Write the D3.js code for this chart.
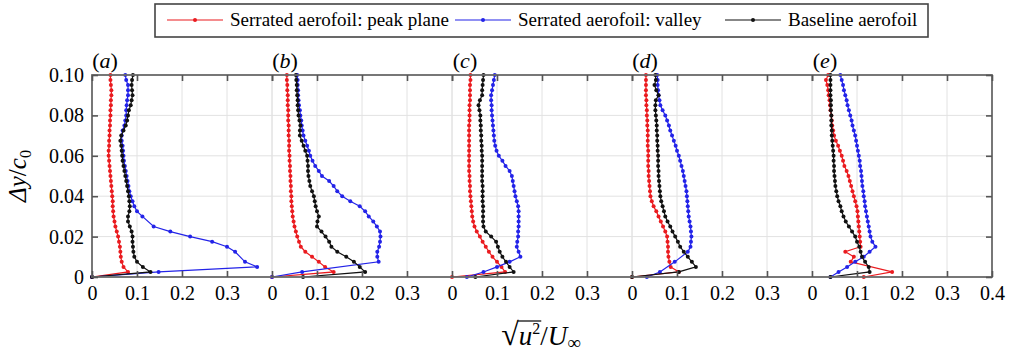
<!DOCTYPE html>
<html>
<head>
<meta charset="utf-8">
<script src="https://cdn.jsdelivr.net/npm/d3@7"></script>
<style>
  body { margin: 0; background: #fff; }
</style>
</head>
<body>
<div class="svg-wrapper"></div>
<script>
// wall-normal stations shared by every profile, from the top of the box down to the wall
var yLevels = [0.1, 0.0975, 0.095, 0.0925, 0.09, 0.0875, 0.085, 0.0825, 0.08, 0.0775,
               0.075, 0.0725, 0.07, 0.0675, 0.065, 0.0625, 0.06, 0.0575, 0.055, 0.0525,
               0.05, 0.0475, 0.045, 0.0425, 0.04, 0.0375, 0.035, 0.0325, 0.03, 0.0275,
               0.025, 0.0225, 0.02, 0.0175, 0.015, 0.0125, 0.01, 0.0075, 0.005, 0.0025, 0];

var panelLabels = ["a", "b", "c", "d", "e"];
var xTicks = [0, 0.1, 0.2, 0.3];
var xTicksLast = [0, 0.1, 0.2, 0.3, 0.4];
var yTicks = [0, 0.02, 0.04, 0.06, 0.08, 0.1];
var seriesNames = ["Serrated aerofoil: peak plane", "Serrated aerofoil: valley", "Baseline aerofoil"];
var seriesColors = ["#ea1b1f", "#2323e8", "#111111"];

// rms velocity profiles (null = no sample at that station)
var peakA = [0.041,0.041,0.042,0.043,0.043,0.042,0.042,0.041,0.041,0.040,
             0.040,0.039,0.039,0.038,0.038,0.037,0.037,0.038,0.039,0.040,
             0.041,0.042,0.043,0.044,0.045,0.046,0.046,0.047,0.048,0.050,
             0.052,0.055,0.058,0.060,0.062,0.063,0.064,0.066,0.070,0.080,0];
var valleyA = [0.074,0.076,0.080,0.080,0.080,0.078,0.077,0.076,0.076,0.074,
               0.072,0.068,0.066,0.066,0.068,0.069,0.070,0.071,0.073,0.075,
               0.077,0.079,0.081,0.083,0.086,0.090,0.094,0.100,0.112,null,
               0.137,0.174,0.218,0.267,0.300,0.318,null,0.340,0.367,0.148,0];
var baseA = [0.091,0.089,0.088,0.089,0.090,0.088,0.086,0.082,0.080,0.078,
             0.075,0.070,0.065,0.063,0.065,0.066,0.067,0.068,0.070,0.072,
             0.074,0.076,0.078,0.080,0.082,0.083,0.084,0.083,0.080,0.080,
             0.084,0.088,0.090,0.090,0.091,0.092,0.094,0.100,0.113,0.130,0];

var peakB = [0.033,0.033,0.034,0.034,0.035,0.035,0.035,0.036,0.036,0.036,
             0.037,0.037,0.037,0.038,0.038,0.038,0.039,0.039,0.040,0.040,
             0.041,0.041,0.042,0.042,0.043,0.043,0.044,0.045,0.046,0.048,
             0.050,0.053,0.056,0.060,0.064,0.074,0.089,0.104,0.118,0.137,0];
var valleyB = [0.056,0.057,0.057,0.058,0.058,0.059,0.060,0.062,0.063,0.065,
               0.066,0.068,0.070,0.074,0.078,0.082,0.085,0.090,0.096,0.104,
               0.111,0.127,0.137,0.145,0.156,0.174,0.195,0.207,0.215,0.225,
               0.233,0.240,0.241,0.240,0.238,0.234,0.234,0.237,null,0.067,0];
var baseB = [0.053,0.054,0.055,0.055,0.056,0.057,0.057,0.058,0.059,0.061,
             0.063,0.062,0.062,0.066,0.070,0.074,0.078,0.079,0.080,0.080,
             0.081,0.083,0.085,0.089,0.093,0.095,0.097,0.100,0.104,0.101,
             0.100,0.110,0.119,0.127,0.132,0.145,0.165,0.182,0.195,0.207,0.069];

var peakC = [0.041,0.041,0.040,0.040,0.040,0.040,0.039,0.039,0.039,0.039,
             0.038,0.038,0.038,0.038,0.038,0.038,0.038,0.038,0.038,0.038,
             0.039,0.039,0.040,0.040,0.041,0.042,0.043,0.044,0.045,0.047,
             0.050,0.055,0.062,0.068,0.075,0.082,0.090,0.100,0.110,0.118,0];
var valleyC = [0.095,0.093,0.091,0.089,0.087,0.087,0.088,0.088,0.089,0.090,
               0.091,0.092,0.093,0.094,0.096,0.099,0.104,0.112,0.119,0.128,
               0.133,0.135,0.137,0.139,0.141,0.144,0.147,0.148,0.148,0.148,
               0.148,0.147,0.147,0.145,0.144,0.148,0.152,0.128,0.100,0.070,0.033];
var baseC = [0.070,0.069,0.068,0.067,0.067,0.062,0.059,0.061,0.063,0.063,
             0.064,0.064,0.065,0.065,0.066,0.066,0.067,0.067,0.067,0.067,
             0.067,0.067,0.068,0.068,0.068,0.068,0.069,0.069,0.069,0.069,
             0.070,0.075,0.087,0.098,0.102,0.106,0.112,0.120,0.128,0.137,0.052];

var peakD = [0.031,0.031,0.031,0.031,0.031,0.032,0.032,0.033,0.033,0.034,
             0.034,0.035,0.035,0.035,0.035,0.036,0.036,0.036,0.036,0.037,
             0.037,0.038,0.039,0.040,0.041,0.044,0.048,0.054,0.059,0.064,
             0.069,0.074,0.078,0.079,0.080,0.080,0.081,0.083,0.086,0.104,0];
var valleyD = [0.056,0.057,0.057,0.058,0.059,0.061,0.063,0.068,0.074,0.078,
               0.082,0.085,0.089,0.093,0.097,0.100,0.104,0.107,0.110,0.113,
               0.115,0.117,0.119,0.121,0.122,0.123,0.124,0.125,0.126,0.128,
               0.130,0.131,0.132,0.131,0.130,0.124,null,0.095,null,0.062,0.033];
var baseD = [0.052,0.053,0.050,0.054,0.059,0.053,0.052,0.052,0.053,0.054,
             0.055,0.055,0.056,0.056,0.057,0.057,0.058,0.058,0.058,0.059,
             0.059,0.060,0.061,0.062,0.063,0.065,0.068,0.071,0.074,0.079,
             0.085,0.090,0.096,0.102,0.107,0.115,0.124,0.133,0.142,0.104,0];

var peakE = [0.036,0.031,0.034,0.036,0.037,0.039,0.040,0.041,0.043,0.044,
             0.045,0.047,0.049,0.053,0.058,0.062,0.066,0.069,0.072,0.077,
             0.081,0.084,0.087,0.090,0.093,0.096,0.099,0.101,0.102,0.103,
             0.104,0.105,0.106,0.107,0.108,0.074,0.093,0.086,null,0.178,0.115];
var valleyE = [0.063,0.066,0.069,0.071,0.074,0.077,0.079,0.082,0.085,0.088,
               0.090,0.093,0.096,0.098,0.100,0.102,0.104,0.106,0.107,0.109,
               0.110,0.111,0.112,0.114,0.115,0.117,0.118,0.120,0.122,0.124,
               0.126,0.128,0.130,0.134,0.141,0.128,0.115,0.096,0.078,0.059,0.041];
var baseE = [0.041,0.041,0.041,0.041,0.041,0.042,0.042,0.042,0.043,0.043,
             0.043,0.044,0.044,0.045,0.046,0.047,0.048,0.048,0.049,0.049,
             0.050,0.051,0.052,0.054,0.056,0.059,0.063,0.066,0.070,0.075,
             0.082,0.089,0.096,0.100,0.105,0.108,0.111,0.118,0.126,0.128,0.041];

var peak   = [peakA, peakB, peakC, peakD, peakE];
var valley = [valleyA, valleyB, valleyC, valleyD, valleyE];
var base   = [baseA, baseB, baseC, baseD, baseE];
var allSeries = [peak, valley, base];

var serif = "Liberation Serif";
var width = 1011, height = 356;
var margin = {top: 75, left: 92};
var plotW = 900, plotH = 202;
var panelW = plotW / panelLabels.length;

var svg = d3.select(".svg-wrapper").append("svg")
    .attr("width", width)
    .attr("height", height)
    .attr("font-family", serif)
    .style("display", "block");

var yScale = d3.scaleLinear().domain([0, 0.1]).range([margin.top + plotH, margin.top]);
var xScales = panelLabels.map(function(d, i) {
  return d3.scaleLinear().domain([0, 0.4])
    .range([margin.left + i * panelW, margin.left + (i + 1) * panelW]);
});

var fmtX = function(d) { return d === 0 ? "0" : d3.format(".1f")(d); };
var fmtY = function(d) { return d === 0 ? "0" : d3.format(".2f")(d); };

// grid
var grid = svg.append("g").attr("stroke", "#e2e2e2").attr("stroke-width", 1);
grid.selectAll(".hgrid").data(yTicks).enter().append("line")
  .attr("x1", margin.left).attr("x2", margin.left + plotW)
  .attr("y1", function(d) { return yScale(d); })
  .attr("y2", function(d) { return yScale(d); });
xScales.forEach(function(xs) {
  grid.selectAll(null).data(xTicksLast).enter().append("line")
    .attr("x1", function(d) { return xs(d); })
    .attr("x2", function(d) { return xs(d); })
    .attr("y1", margin.top).attr("y2", margin.top + plotH);
});

// profiles
var line = d3.line();
xScales.forEach(function(xs, i) {
  var g = svg.append("g").attr("class", "panel-" + panelLabels[i]);
  allSeries.forEach(function(series, s) {
    var pts = yLevels.map(function(y, j) { return {x: series[i][j], y: y}; })
      .filter(function(d) { return d.x != null; });
    line.x(function(d) { return xs(d.x); }).y(function(d) { return yScale(d.y); });
    g.append("path")
      .attr("d", line(pts))
      .attr("fill", "none")
      .attr("stroke", seriesColors[s])
      .attr("stroke-width", 1.2);
    g.selectAll(null).data(pts).enter().append("circle")
      .attr("cx", function(d) { return xs(d.x); })
      .attr("cy", function(d) { return yScale(d.y); })
      .attr("r", 2)
      .attr("fill", seriesColors[s]);
  });
});

// frame
svg.append("rect")
  .attr("x", margin.left).attr("y", margin.top)
  .attr("width", plotW).attr("height", plotH)
  .attr("fill", "none").attr("stroke", "#6a6a6a").attr("stroke-width", 1.8);

function styleAxis(g) {
  g.attr("font-family", serif).attr("font-size", 20);
  g.select(".domain").remove();
  g.selectAll(".tick line").attr("stroke", "#555").attr("stroke-width", 1.6);
  g.selectAll(".tick text").attr("fill", "#000");
}

xScales.forEach(function(xs, i) {
  var vals = i == xScales.length - 1 ? xTicksLast : xTicks;
  svg.append("g")
    .attr("transform", "translate(0," + (margin.top + plotH) + ")")
    .call(d3.axisBottom(xs).tickValues(vals).tickFormat(fmtX)
      .tickSizeInner(-6).tickSizeOuter(0).tickPadding(9))
    .call(styleAxis);
  svg.append("g")
    .attr("transform", "translate(0," + margin.top + ")")
    .call(d3.axisTop(xs).tickValues(xTicksLast).tickFormat("")
      .tickSizeInner(-6).tickSizeOuter(0))
    .call(styleAxis);
  svg.append("text")
    .attr("x", xs(0) + 13).attr("y", 68)
    .attr("text-anchor", "middle")
    .attr("font-size", 22)
    .html("(<tspan font-style='italic'>" + panelLabels[i] + "</tspan>)");
});

svg.append("g")
  .attr("transform", "translate(" + margin.left + ",0)")
  .call(d3.axisLeft(yScale).tickValues(yTicks).tickFormat(fmtY)
    .tickSizeInner(-6).tickSizeOuter(0).tickPadding(8))
  .call(styleAxis);
svg.append("g")
  .attr("transform", "translate(" + (margin.left + plotW) + ",0)")
  .call(d3.axisRight(yScale).tickValues(yTicks).tickFormat("")
    .tickSizeInner(-6).tickSizeOuter(0))
  .call(styleAxis);

// axis titles
svg.append("text")
  .attr("transform", "translate(26," + (margin.top + plotH / 2) + ") rotate(-90)")
  .attr("text-anchor", "middle")
  .attr("font-size", 25)
  .html("<tspan font-style='italic'>Δy</tspan>/<tspan font-style='italic'>c</tspan>" +
        "<tspan font-size='16' dy='5'>0</tspan>");

var xTitle = svg.append("text")
  .attr("x", 541).attr("y", 345)
  .attr("text-anchor", "middle")
  .attr("font-size", 27)
  .html("<tspan font-size='32'>√</tspan><tspan font-style='italic'>u</tspan>" +
        "<tspan font-size='16' dy='-11'>2</tspan><tspan dy='11'>/</tspan>" +
        "<tspan font-style='italic'>U</tspan><tspan font-size='19' dy='4'>∞</tspan>");
try {
  var tn = xTitle.node();
  var x0 = tn.getStartPositionOfChar(1).x - 1;
  var x1 = tn.getEndPositionOfChar(2).x + 1;
  svg.append("line")
    .attr("x1", x0).attr("x2", x1)
    .attr("y1", 321).attr("y2", 321)
    .attr("stroke", "#111").attr("stroke-width", 1.3);
} catch (e) {}

// legend
var legend = svg.append("g");
legend.append("rect")
  .attr("x", 155).attr("y", 4).attr("width", 773).attr("height", 33)
  .attr("fill", "#fff").attr("stroke", "#444").attr("stroke-width", 1.6);
var legendX = [167, 455, 725];
seriesNames.forEach(function(name, s) {
  var lx = legendX[s];
  legend.append("line")
    .attr("x1", lx).attr("x2", lx + 56).attr("y1", 20).attr("y2", 20)
    .attr("stroke", seriesColors[s]).attr("stroke-width", 1.2);
  legend.append("circle")
    .attr("cx", lx + 28).attr("cy", 20).attr("r", 2)
    .attr("fill", seriesColors[s]);
  legend.append("text")
    .attr("x", lx + 63).attr("y", 26)
    .attr("font-size", 19)
    .attr("fill", "#000")
    .text(name);
});
</script>
</body>
</html>
